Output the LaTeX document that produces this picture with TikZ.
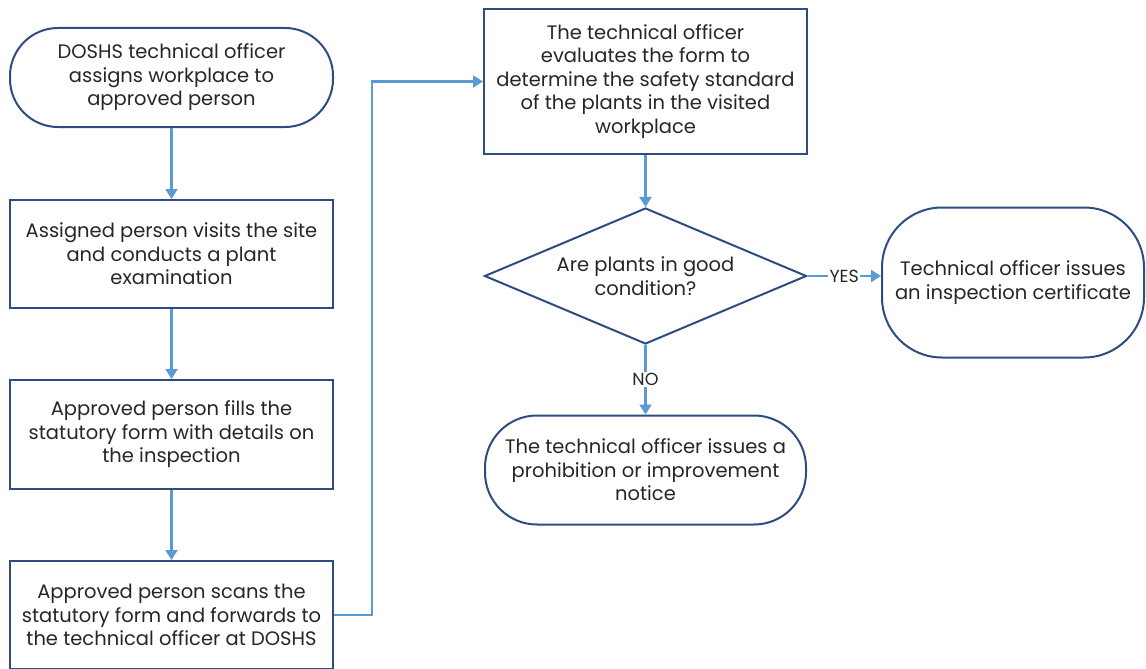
\documentclass[tikz,border=0pt]{standalone}
\usepackage{fontspec}
\setmainfont{Poppins}
\usetikzlibrary{arrows.meta,shapes.geometric}
\definecolor{bord}{HTML}{2E4D7F}
\definecolor{arrc}{HTML}{5B9BD5}
\definecolor{txt}{HTML}{262626}
\begin{document}
\begin{tikzpicture}[x=1pt,y=-1pt,
  base/.style={draw=bord,line width=2pt,fill=white,text=txt,align=center,
    inner sep=0pt,font=\fontsize{19.5}{23.5}\selectfont},
  boxs/.style={base,rectangle,minimum width=323pt},
  term/.style={base,rectangle,rounded corners=#1},
  dec/.style={base,diamond,aspect=2.37,minimum width=322pt,minimum height=136pt},
  arr/.style={draw=arrc,line width=2.2pt,-{Triangle[width=12pt,length=10pt]}},
  lbl/.style={fill=white,text=txt,inner sep=1.5pt,font=\fontsize{17.5}{19}\selectfont}]
\useasboundingbox (0,0) rectangle (1146,669);
\node[term=48pt,minimum width=323pt,minimum height=99pt] (n1) at (171.5,77.5)
  {DOSHS technical officer\\assigns workplace to\\approved person};
\node[boxs,minimum height=108pt] (n2) at (171.5,254)
  {Assigned person visits the site\\and conducts a plant\\examination};
\node[boxs,minimum height=109pt] (n3) at (171.5,434.5)
  {Approved person fills the\\statutory form with details on\\the inspection};
\node[boxs,minimum height=108pt] (n4) at (171.5,615)
  {Approved person scans the\\statutory form and forwards to\\the technical officer at DOSHS};
\node[boxs,minimum height=145pt] (n5) at (645.5,81.5)
  {The technical officer\\evaluates the form to\\determine the safety standard\\of the plants in the visited\\workplace};
\node[dec] (d) at (645.5,276) {Are plants in good\\condition?};
\node[term=60pt,minimum width=262pt,minimum height=150pt] (t1) at (1013,282.5)
  {Technical officer issues\\an inspection certificate};
\node[term=52pt,minimum width=321pt,minimum height=109pt] (t2) at (645.5,470)
  {The technical officer issues a\\prohibition or improvement\\notice};
\draw[arr] (n1) -- (n2);
\draw[arr] (n2) -- (n3);
\draw[arr] (n3) -- (n4);
\draw[arr] (n4.east) -- ++(38,0) |- (n5.west);
\draw[arr] (n5) -- (d);
\draw[arr] (d.east) -- node[lbl]{YES} (d.east -| t1.west);
\draw[arr] (d.south) -- node[lbl]{NO} (t2.north);
\end{tikzpicture}
\end{document}
